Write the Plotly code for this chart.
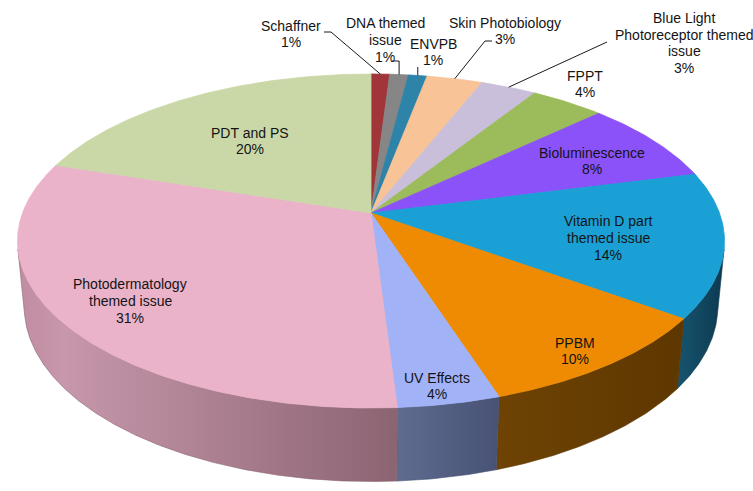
import numpy as np
import plotly.graph_objects as go

# ---------------- data ----------------
LABELS = ["Schaffner", "DNA themed<br>issue", "ENVPB", "Skin Photobiology",
          "Blue Light<br>Photoreceptor themed<br>issue", "FPPT", "Bioluminescence",
          "Vitamin D part<br>themed issue", "PPBM", "UV Effects",
          "Photodermatology<br>themed issue", "PDT and PS"]
VALUES = [1, 1, 1, 3, 3, 4, 8, 14, 10, 4, 31, 20]

# ---------------- style ----------------
TOP_COLORS = ["#a0353a", "#868686", "#2d84a8", "#f8c396", "#c9bfdb", "#9cbb5a",
              "#8a52f8", "#1aa0d4", "#ee8b02", "#a2b2f6", "#ebb3c9", "#cad8a8"]
WALL_SCALES = [
    [[0, "#6a2226"], [1, "#501a1d"]],
    [[0, "#5a5a5a"], [1, "#444444"]],
    [[0, "#1d5a72"], [1, "#164456"]],
    [[0, "#a8825f"], [1, "#8a6a4c"]],
    [[0, "#8a8196"], [1, "#6e6778"]],
    [[0, "#6a7f3c"], [1, "#55662f"]],
    [[0, "#5a35a8"], [1, "#472a85"]],
    [[0, "#17546f"], [1, "#0c3a50"]],
    [[0, "#6e4304"], [1, "#5e3700"]],
    [[0, "#5f6c90"], [1, "#475274"]],
    [[0, "#c08ca2"], [0.12, "#c797ab"], [1, "#8b6472"]],
    [[0, "#8a9870"], [1, "#6e7a58"]],
]
# label block centres (pixels) and leader-line bends
LABEL_XY = [(291, 34), (385, 40), (433, 52), (505, 31), (684, 43), (585, 84),
            (592, 161), (608, 238), (575, 351), (437, 386), (130, 301), (250, 141)]
LINE_STEP = 16.8
FONT = dict(family="Liberation Sans, Arial, sans-serif", size=14, color="#141414")
LEADERS = {0: [(331, 32), (324, 32)],
           1: ["v61", "dx-7"],
           2: ["v67"],
           3: [(485, 41), (492, 41)],
           4: [(607, 42)]}

# ---------------- perspective projection of the 3-D pie ----------------
CX, CY = 371.0, 213.0
DIST = 5.277
SA, CA = 0.4657, 0.885
FOC = 348.5 * DIST
DEPTH = 0.215


def proj(theta_deg, h=0.0, r=1.0):
    t = np.radians(theta_deg)
    X = r * np.sin(t)
    Z = r * np.cos(t)
    yc = Z * SA + h * CA
    zc = DIST + Z * CA - h * SA
    return CX + FOC * X / zc, CY - FOC * yc / zc


total = float(sum(VALUES))
ends = np.cumsum(VALUES) / total * 360.0
starts = np.concatenate([[0.0], ends[:-1]])

theta_sil = np.degrees(np.arccos(-1.0 / (DIST * CA)))
vis_lo, vis_hi = theta_sil, 360.0 - theta_sil

fig = go.Figure()

# side walls
for i, (a, b) in enumerate(zip(starts, ends)):
    lo, hi = max(a, vis_lo), min(b, vis_hi)
    if lo >= hi:
        continue
    th = np.linspace(lo, hi, max(3, int((hi - lo) * 3)))
    xt, yt = proj(th, 0.0)
    xb, yb = proj(th[::-1], -DEPTH)
    xs = np.concatenate([xt, xb, xt[:1]])
    ys = np.concatenate([yt, yb, yt[:1]])
    fig.add_trace(go.Scatter(
        x=xs, y=ys, mode="lines", fill="toself",
        fillgradient=dict(type="horizontal", colorscale=WALL_SCALES[i]),
        line=dict(width=0.6, color=WALL_SCALES[i][-1][1]),
        hoverinfo="skip", showlegend=False))

# top faces
for i, (a, b) in enumerate(zip(starts, ends)):
    th = np.linspace(a, b, max(3, int((b - a) * 3)))
    xa, ya = proj(th, 0.0)
    xs = np.concatenate([[CX], xa, [CX]])
    ys = np.concatenate([[CY], ya, [CY]])
    fig.add_trace(go.Scatter(
        x=xs, y=ys, mode="lines", fill="toself", fillcolor=TOP_COLORS[i],
        line=dict(width=0.8, color=TOP_COLORS[i]),
        hoverinfo="skip", showlegend=False))

# leader lines for the small slices
for i, bends in LEADERS.items():
    mid = (starts[i] + ends[i]) / 2.0
    sx, sy = proj(mid, 0.0)
    px, py = [float(sx)], [float(sy)]
    for bnd in bends:
        if isinstance(bnd, str) and bnd.startswith("v"):
            px.append(px[-1])
            py.append(float(bnd[1:]))
        elif isinstance(bnd, str) and bnd.startswith("dx"):
            px.append(px[-1] + float(bnd[2:]))
            py.append(py[-1])
        else:
            px.append(bnd[0])
            py.append(bnd[1])
    fig.add_trace(go.Scatter(x=px, y=py, mode="lines",
                             line=dict(color="#1a1a1a", width=1),
                             hoverinfo="skip", showlegend=False))

# labels (one annotation per text line for tight line spacing)
for i, (lab, v) in enumerate(zip(LABELS, VALUES)):
    x, y = LABEL_XY[i]
    lines = f"{lab}<br>{v}%".split("<br>")
    n = len(lines)
    for k, ln in enumerate(lines):
        yk = y + (k - (n - 1) / 2.0) * LINE_STEP
        fig.add_annotation(x=x, y=yk, text=ln, showarrow=False,
                           xanchor="center", yanchor="middle", align="center",
                           font=FONT)

fig.update_layout(
    width=753, height=491, autosize=False,
    margin=dict(l=0, r=0, t=0, b=0),
    paper_bgcolor="white", plot_bgcolor="white",
    xaxis=dict(range=[0, 753], visible=False, fixedrange=True),
    yaxis=dict(range=[491, 0], visible=False, fixedrange=True),
    showlegend=False,
)

fig.write_html("out.html", config={"displayModeBar": False},
               post_script="document.body.style.margin='0';")
